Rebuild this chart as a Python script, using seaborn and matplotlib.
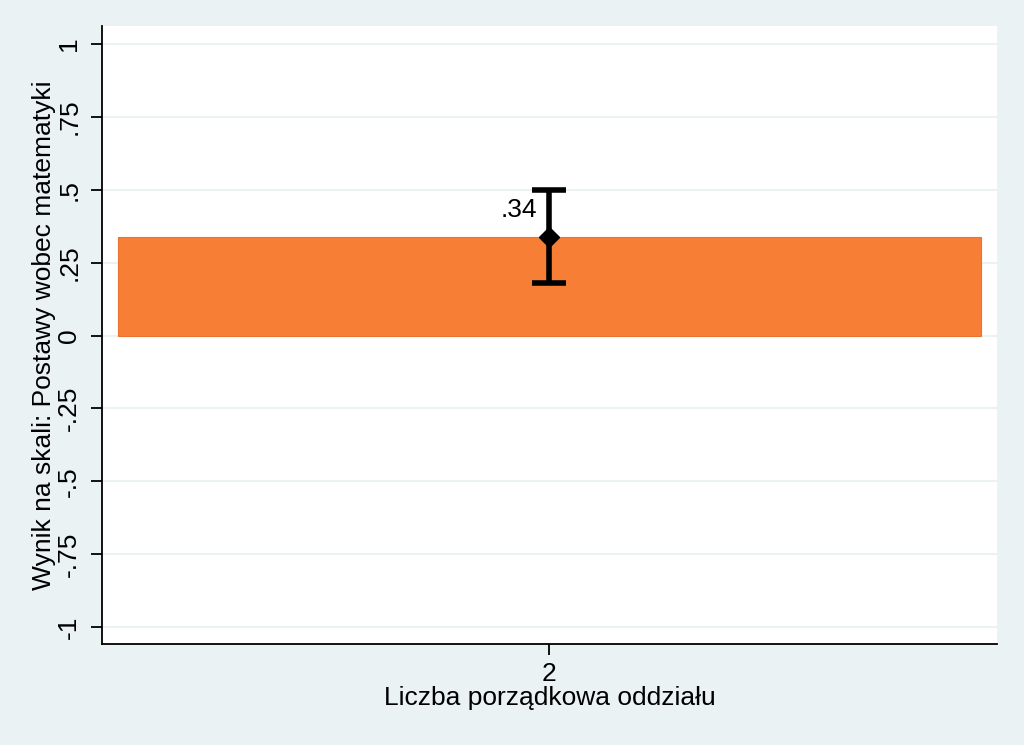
import numpy as np
import pandas as pd
import matplotlib
matplotlib.use("Agg")
import matplotlib.pyplot as plt
import seaborn as sns

# data
groups = ["2"]
means = [0.34]
ci_low = [0.18]
ci_high = [0.50]
ytick_values = [1, 0.75, 0.5, 0.25, 0, -0.25, -0.5, -0.75, -1]
ytick_labels = ["1", ".75", ".5", ".25", "0", "-.25", "-.5", "-.75", "-1"]
mean_labels = [".34"]

df = pd.DataFrame({"oddzial": groups, "wynik": means})

bg = "#EAF2F3"
bar_color = "#F67E35"

sns.set_style("white")
plt.rcParams["font.family"] = ["Liberation Sans", "DejaVu Sans"]
plt.rcParams["text.color"] = "black"
plt.rcParams["axes.labelcolor"] = "black"
plt.rcParams["xtick.color"] = "black"
plt.rcParams["ytick.color"] = "black"

fig = plt.figure(figsize=(10.24, 7.45), dpi=100)
fig.patch.set_facecolor(bg)
ax = fig.add_axes([0.0996, 0.1356, 0.874, 0.8294])
ax.set_facecolor("white")

sns.barplot(data=df, x="oddzial", y="wynik", color=bar_color, width=1.0,
            saturation=1, errorbar=None, ax=ax, zorder=2,
            edgecolor="#E87430", linewidth=0.8)

for i, (m, lo, hi, lab) in enumerate(zip(means, ci_low, ci_high, mean_labels)):
    ax.errorbar(i, m, yerr=[[m - lo], [hi - m]], fmt="D", color="black",
                markersize=10, elinewidth=4, capsize=12, capthick=4, zorder=4)
    ax.annotate(lab, (i, m), xytext=(-12, 27), textcoords="offset pixels",
                ha="right", va="center", fontsize=19, zorder=5)

ax.set_ylim(-1.058, 1.062)
ax.set_xlim(-0.519, 0.519)
ax.set_yticks(ytick_values)
ax.set_yticklabels(ytick_labels, rotation=90, va="center", fontsize=19)
ax.tick_params(axis="x", bottom=True, labelsize=19, length=8, width=1.3,
               direction="out", pad=5)
ax.tick_params(axis="y", left=True, length=8, width=1.3, direction="out", pad=7)
ax.yaxis.grid(True, color=bg, linewidth=1.5, zorder=0)
ax.set_axisbelow(True)

for s in ["top", "right"]:
    ax.spines[s].set_visible(False)
for s in ["left", "bottom"]:
    ax.spines[s].set_color("black")
    ax.spines[s].set_linewidth(1.3)

ax.set_xlabel("Liczba porządkowa oddziału", fontsize=19, labelpad=0)
ax.set_ylabel("Wynik na skali: Postawy wobec matematyki", fontsize=19, labelpad=1)

fig.savefig("out.png", dpi=100, facecolor=bg)
